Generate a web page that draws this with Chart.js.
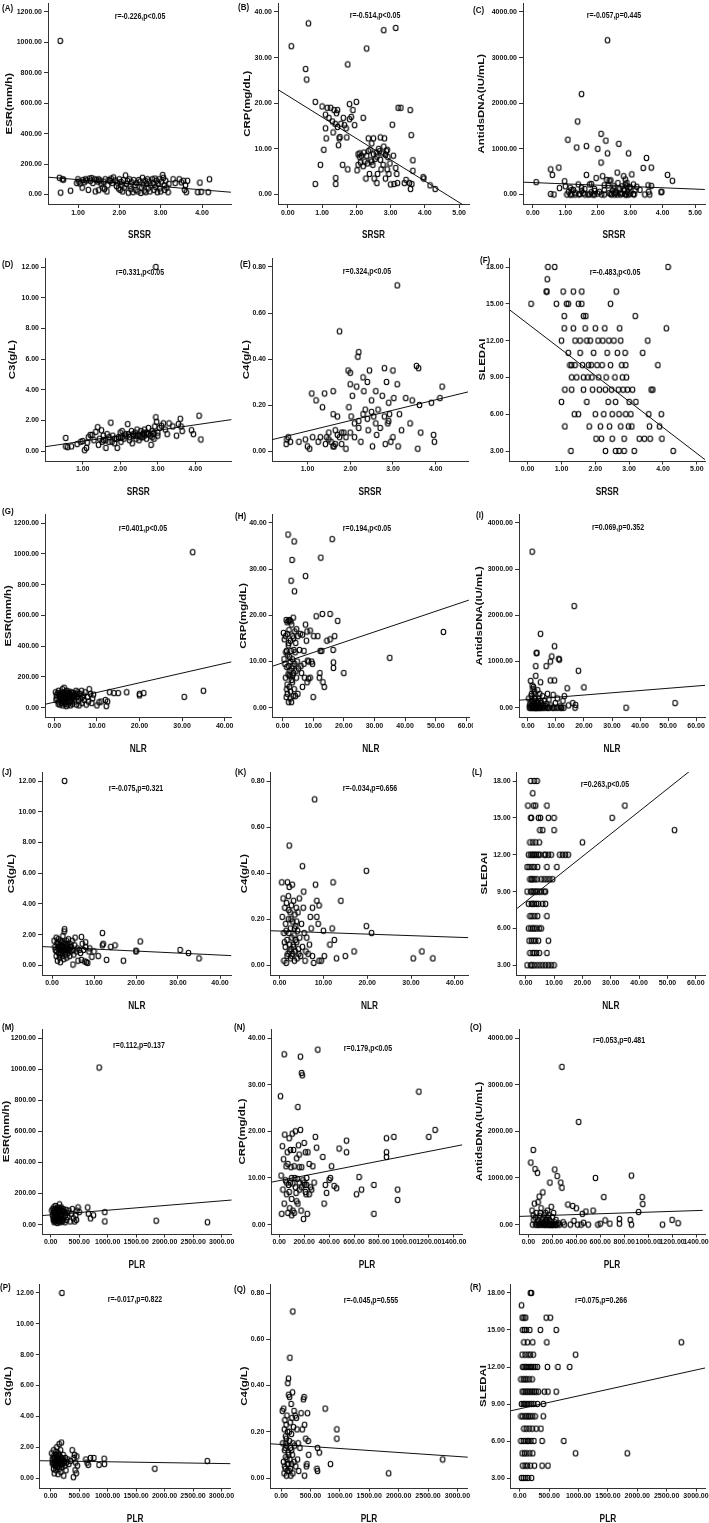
<!DOCTYPE html>
<html><head><meta charset="utf-8">
<script src="https://cdn.jsdelivr.net/npm/chart.js@4.4.1/dist/chart.umd.min.js"></script>
<style>
html,body{margin:0;padding:0;background:#fff;}
body{width:709px;height:1523px;position:relative;overflow:hidden;}
canvas{position:absolute;}
</style></head><body>
<script>
// ---------- tick label sets ----------
const srsrTicks14 = [1,2,3,4];
const srsrTicks05 = [0,1,2,3,4,5];
const nlrTicks40 = [0,10,20,30,40];
const nlrTicks60 = [0,10,20,30,40,50,60];
const plrTicks3000 = [0,500,1000,1500,2000,2500,3000];
const plrTicks1400 = [0,200,400,600,800,1000,1200,1400];
const esrTicks = [0,200,400,600,800,1000,1200];
const crpTicks = [0,10,20,30,40];
const adsTicks = [0,1000,2000,3000,4000];
const c3Ticks = [0,2,4,6,8,10,12];
const c4Ticks = [0,0.2,0.4,0.6,0.8];
const sledaiTicks = [3,6,9,12,15,18];

// ---------- point data (x, y) ----------
const ptsA = [[0.55,110],[0.57,1010],[0.58,12],[0.62,100],[0.65,98],[0.82,25],[0.97,75],[1.0,100],[1.02,85],[1.05,72],[1.1,45],[1.12,95],[1.15,80],[1.18,100],[1.2,92],[1.25,30],[1.28,105],[1.3,90],[1.33,108],[1.36,75],[1.4,100],[1.42,20],[1.45,95],[1.48,85],[1.5,100],[1.5,28],[1.53,92],[1.56,70],[1.6,45],[1.62,85],[1.64,35],[1.66,100],[1.7,20],[1.72,60],[1.75,95],[1.78,88],[1.8,105],[1.83,75],[1.86,112],[1.9,92],[1.93,55],[1.95,78],[1.98,40],[2.0,100],[2.02,30],[2.04,82],[2.06,60],[2.08,20],[2.1,95],[2.12,45],[2.15,125],[2.17,70],[2.2,90],[2.22,12],[2.24,100],[2.26,55],[2.28,35],[2.3,80],[2.33,15],[2.35,95],[2.38,60],[2.4,30],[2.42,75],[2.45,20],[2.47,95],[2.5,85],[2.52,10],[2.54,45],[2.56,110],[2.58,65],[2.6,25],[2.62,90],[2.64,15],[2.66,70],[2.68,100],[2.7,40],[2.72,85],[2.74,20],[2.76,60],[2.8,100],[2.82,75],[2.84,30],[2.86,105],[2.88,50],[2.9,90],[2.92,15],[2.94,70],[2.96,100],[2.98,40],[3.0,20],[3.02,85],[3.05,128],[3.07,110],[3.09,60],[3.1,30],[3.12,90],[3.15,45],[3.18,15],[3.2,70],[3.3,100],[3.35,75],[3.45,100],[3.5,80],[3.55,90],[3.58,30],[3.6,60],[3.62,15],[3.65,90],[3.9,15],[3.95,78],[3.98,18],[4.15,15],[4.18,100]];
const ptsB = [[0.1,32.5],[0.52,27.5],[0.55,25.2],[0.6,37.5],[1.75,28.5],[2.3,32],[2.8,36],[3.15,36.5],[0.8,20.3],[0.8,2.3],[0.95,6.5],[1.0,19.3],[1.05,9.8],[1.1,17.5],[1.1,14.5],[1.12,12.3],[1.15,19],[1.2,16.8],[1.25,19],[1.3,16],[1.32,13.6],[1.35,18.5],[1.38,15.5],[1.4,3.6],[1.4,2.3],[1.42,17.8],[1.45,18.5],[1.45,14.8],[1.48,10.8],[1.5,12.3],[1.52,12.6],[1.55,15.5],[1.6,6.5],[1.62,16.8],[1.65,15.2],[1.7,14.5],[1.72,12.5],[1.75,5.5],[1.8,16.5],[1.8,19.8],[1.85,17],[1.9,18.5],[1.95,15.2],[2.0,20.3],[2.02,5.3],[2.05,6.5],[2.05,8.8],[2.1,9],[2.12,7],[2.15,8.5],[2.2,16.8],[2.22,9.2],[2.25,7.2],[2.28,3.5],[2.3,8.5],[2.32,6.8],[2.35,12.3],[2.38,4.5],[2.4,9.8],[2.42,7.5],[2.45,11.2],[2.48,6.5],[2.5,12.3],[2.5,8.8],[2.52,3.5],[2.55,7.8],[2.58,9.2],[2.6,2.5],[2.62,4.5],[2.65,10],[2.68,9.5],[2.7,12.5],[2.72,5.5],[2.75,9],[2.78,6.5],[2.8,10.5],[2.82,12.3],[2.85,3.5],[2.88,9.5],[2.9,5.5],[2.92,8.2],[2.95,4.5],[2.98,6.8],[3.0,2.2],[3.05,15.3],[3.08,8.5],[3.1,2.3],[3.15,5.8],[3.18,4.5],[3.2,2.5],[3.22,19],[3.3,19],[3.4,2.5],[3.45,3.2],[3.55,2.5],[3.57,18.5],[3.58,1.2],[3.6,13],[3.62,2.3],[3.65,7.5],[3.65,5.2],[3.95,3.8],[3.97,3.5],[4.15,2],[4.3,1.2],[2.1,8.2],[2.2,6.2],[2.35,9.5],[2.6,8.3],[2.85,8.7],[2.9,9.8],[2.45,7.2],[2.7,7.6]];
const ptsC = [[0.1,270],[0.55,550],[0.6,430],[0.55,10],[0.65,0],[0.8,590],[0.82,140],[0.98,290],[1.0,180],[1.05,0],[1.08,1200],[1.1,60],[1.15,150],[1.2,0],[1.25,100],[1.3,40],[1.35,1030],[1.38,1600],[1.4,220],[1.42,0],[1.5,2200],[1.5,80],[1.55,30],[1.6,120],[1.65,1060],[1.65,430],[1.7,0],[1.75,220],[1.8,50],[1.85,0],[1.9,120],[1.95,360],[2.0,1000],[2.05,60],[2.1,700],[2.1,1330],[2.12,0],[2.15,400],[2.2,100],[2.25,1180],[2.28,320],[2.3,3380],[2.3,900],[2.32,200],[2.35,30],[2.4,310],[2.42,0],[2.45,90],[2.5,180],[2.52,0],[2.55,60],[2.6,480],[2.62,250],[2.65,1110],[2.68,120],[2.7,0],[2.75,20],[2.8,400],[2.82,90],[2.85,330],[2.88,0],[2.9,180],[2.92,50],[2.95,900],[2.97,150],[3.0,20],[3.05,440],[3.1,220],[3.12,0],[3.15,90],[3.2,170],[3.3,100],[3.4,580],[3.45,0],[3.5,800],[3.55,200],[3.57,60],[3.6,0],[3.65,590],[3.65,190],[3.95,50],[3.97,60],[4.15,430],[4.3,300],[1.15,0],[1.3,0],[1.45,10],[1.6,0],[1.75,5],[1.9,0],[2.0,20],[2.2,0],[2.4,10],[2.6,0],[2.7,40],[2.85,0],[2.95,0],[3.1,10],[1.2,100],[1.5,150],[1.9,80],[2.2,200],[2.5,130],[2.8,110],[2.9,250],[3.0,160],[2.75,180],[2.85,220],[1.8,230],[2.35,300],[2.55,30]];
const ptsD = [[0.55,0.85],[0.55,0.3],[0.6,0.25],[0.7,0.3],[0.85,0.45],[0.95,0.6],[1.0,0.65],[1.05,0.05],[1.1,0.2],[1.12,0.55],[1.15,0.9],[1.2,1.05],[1.25,1.05],[1.3,0.7],[1.35,1.25],[1.4,1.55],[1.42,0.4],[1.45,0.8],[1.5,1.35],[1.52,0.6],[1.55,1.0],[1.6,0.7],[1.62,0.2],[1.65,1.1],[1.7,0.9],[1.75,1.85],[1.78,0.6],[1.8,1.0],[1.85,0.5],[1.9,0.8],[1.92,0.2],[1.95,0.9],[2.0,1.2],[2.02,0.6],[2.05,1.3],[2.1,0.8],[2.15,1.0],[2.2,1.75],[2.22,1.1],[2.25,0.7],[2.3,1.3],[2.32,0.5],[2.35,1.0],[2.4,1.2],[2.42,0.8],[2.45,1.4],[2.5,0.7],[2.52,1.0],[2.55,1.3],[2.6,0.9],[2.62,1.2],[2.65,1.4],[2.7,0.8],[2.72,1.1],[2.75,1.5],[2.8,1.0],[2.82,0.4],[2.85,1.3],[2.88,1.1],[2.9,0.8],[2.92,1.6],[2.95,2.2],[2.95,12.0],[2.97,1.9],[3.0,1.2],[3.05,1.5],[3.1,1.65],[3.15,1.8],[3.2,1.4],[3.25,1.1],[3.3,1.8],[3.4,1.6],[3.5,1.0],[3.55,1.75],[3.6,2.1],[3.62,1.6],[3.65,1.3],[3.9,1.35],[3.95,1.1],[4.1,2.3],[4.15,0.75],[1.55,0.7],[1.7,0.6],[1.85,0.8],[2.05,0.9],[2.15,1.1],[2.25,0.9],[2.35,1.1],[2.45,1.0],[2.55,0.9],[2.65,1.0],[2.75,1.1],[2.85,0.9],[2.9,1.2],[3.0,1.0],[2.0,0.85],[2.4,1.0],[2.6,1.1],[2.7,1.2]];
const ptsE = [[0.5,0.03],[0.52,0.05],[0.55,0.06],[0.6,0.04],[0.8,0.04],[0.95,0.05],[1.0,0.02],[1.05,0.01],[1.1,0.25],[1.12,0.06],[1.2,0.22],[1.25,0.04],[1.3,0.06],[1.35,0.19],[1.4,0.25],[1.42,0.03],[1.45,0.06],[1.5,0.08],[1.55,0.04],[1.6,0.26],[1.6,0.16],[1.62,0.02],[1.65,0.09],[1.7,0.15],[1.75,0.52],[1.75,0.06],[1.8,0.03],[1.85,0.08],[1.9,0.01],[1.95,0.35],[1.97,0.19],[2.0,0.34],[2.0,0.29],[2.02,0.15],[2.05,0.24],[2.1,0.06],[2.15,0.28],[2.18,0.41],[2.2,0.43],[2.2,0.13],[2.25,0.04],[2.3,0.32],[2.32,0.26],[2.35,0.18],[2.4,0.3],[2.42,0.09],[2.45,0.35],[2.5,0.22],[2.52,0.02],[2.55,0.15],[2.6,0.26],[2.62,0.07],[2.65,0.18],[2.7,0.1],[2.75,0.24],[2.8,0.36],[2.82,0.03],[2.85,0.3],[2.88,0.12],[2.9,0.21],[2.92,0.16],[2.95,0.04],[3.0,0.35],[3.02,0.23],[3.1,0.72],[3.1,0.29],[3.12,0.02],[3.15,0.16],[3.2,0.09],[3.3,0.23],[3.4,0.12],[3.45,0.22],[3.55,0.37],[3.58,0.01],[3.6,0.36],[3.62,0.2],[3.65,0.08],[3.9,0.21],[3.95,0.07],[3.97,0.04],[4.15,0.28],[4.1,0.23],[1.5,0.05],[1.6,0.02],[1.65,0.03],[1.7,0.07],[1.8,0.08],[1.9,0.06],[2.0,0.08],[2.1,0.12],[2.2,0.1],[2.3,0.16],[2.4,0.14],[2.5,0.17],[2.6,0.12],[2.8,0.15],[2.9,0.13],[3.0,0.06]];
const ptsF = [[0.1,15],[0.55,16],[0.57,16],[0.58,17],[0.6,18],[0.8,18],[0.85,15],[1.0,12],[1.0,7],[1.05,16],[1.08,14],[1.08,13],[1.1,5],[1.1,8],[1.15,15],[1.2,15],[1.2,11],[1.25,10],[1.28,3],[1.3,10],[1.3,9],[1.3,8],[1.35,16],[1.35,13],[1.38,6],[1.4,12],[1.4,10],[1.45,9],[1.5,15],[1.5,6],[1.55,12],[1.55,11],[1.6,16],[1.6,15],[1.62,10],[1.65,14],[1.65,9],[1.65,8],[1.7,13],[1.72,14],[1.75,12],[1.75,7],[1.78,9],[1.8,10],[1.82,5],[1.85,12],[1.88,10],[1.9,9],[1.92,8],[1.95,11],[2.0,13],[2.0,6],[2.02,4],[2.05,10],[2.08,12],[2.1,9],[2.12,8],[2.15,5],[2.18,4],[2.2,10],[2.22,12],[2.25,6],[2.28,13],[2.3,3],[2.3,8],[2.32,9],[2.35,11],[2.38,7],[2.4,12],[2.42,5],[2.45,15],[2.45,10],[2.48,8],[2.5,6],[2.5,4],[2.55,12],[2.58,9],[2.6,7],[2.6,3],[2.62,16],[2.65,11],[2.68,8],[2.7,6],[2.7,3],[2.72,13],[2.75,12],[2.75,5],[2.78,10],[2.8,9],[2.82,8],[2.85,4],[2.85,3],[2.88,11],[2.9,10],[2.9,6],[2.92,9],[2.95,8],[2.98,5],[3.0,7],[3.05,6],[3.08,5],[3.1,8],[3.15,3],[3.18,14],[3.2,7],[3.3,4],[3.4,11],[3.45,4],[3.55,12],[3.58,6],[3.6,5],[3.62,4],[3.65,8],[3.7,8],[3.85,10],[3.9,5],[3.95,6],[3.97,4],[4.1,13],[4.15,18],[4.3,3]];
const ptsG = [[0.3,100],[0.5,80],[0.6,60],[0.8,95],[1.0,40],[1.0,110],[1.2,70],[1.3,20],[1.4,90],[1.5,55],[1.6,100],[1.7,30],[1.8,80],[1.9,120],[2.0,15],[2.0,65],[2.1,95],[2.2,45],[2.3,130],[2.4,75],[2.5,25],[2.5,100],[2.6,55],[2.7,85],[2.8,10],[2.9,110],[3.0,40],[3.0,70],[3.1,95],[3.2,20],[3.3,60],[3.4,105],[3.5,80],[3.6,35],[3.7,90],[3.8,15],[3.9,65],[4.0,100],[4.1,50],[4.2,80],[4.3,25],[4.5,95],[4.6,60],[4.8,40],[5.0,85],[5.1,110],[5.2,20],[5.4,70],[5.5,100],[5.7,45],[5.8,15],[6.0,90],[6.2,60],[6.4,110],[6.5,30],[6.8,80],[7.0,50],[7.2,100],[7.5,20],[7.8,70],[8.0,40],[8.2,120],[8.5,90],[8.8,30],[9.0,60],[9.2,85],[10.0,15],[10.5,35],[11.0,40],[12.0,50],[12.2,10],[12.5,40],[13.0,100],[14.0,95],[15.0,95],[17.0,100],[20.0,80],[20.0,90],[21.0,95],[30.5,70],[32.5,1010],[35.0,110],[1.1,85],[1.5,75],[2.2,85],[2.7,60],[3.3,80],[3.6,95],[4.4,70],[1.8,45],[2.4,35],[3.9,40],[4.7,75],[5.3,90],[6.6,70],[0.4,50],[0.9,25]];
const ptsH = [[0.3,16.2],[0.5,10.5],[0.6,14.8],[0.8,9.5],[1.0,15.5],[1.0,6.5],[1.2,2.3],[1.2,19],[1.3,12.3],[1.4,8.8],[1.5,5],[1.5,18.5],[1.6,3],[1.7,11.5],[1.8,7.2],[1.8,37.5],[1.9,13.5],[2.0,1.2],[2.0,9],[2.1,16.8],[2.2,4.5],[2.3,19],[2.4,8],[2.5,10],[2.5,2],[2.6,14.5],[2.7,6.8],[2.8,27.5],[2.8,12.3],[2.9,1.2],[3.0,8.5],[3.0,18],[3.1,32],[3.2,5.5],[3.3,15.5],[3.4,9],[3.5,2.5],[3.5,19.5],[3.6,7.5],[3.7,12.5],[3.8,36],[3.8,4],[3.9,25.2],[4.0,16.5],[4.0,9.5],[4.2,2.5],[4.3,14],[4.5,6.5],[4.6,17],[4.8,10],[5.0,3],[5.0,15.5],[5.2,8.5],[5.5,12.5],[5.8,16],[6.0,9],[6.2,7.5],[6.5,15.8],[6.5,4.5],[7.0,12.3],[7.0,9.5],[7.2,6.5],[7.5,28.5],[7.5,18],[7.8,14.5],[8.0,16.5],[8.0,5.5],[8.2,10.2],[8.5,10],[8.5,6.3],[9.0,16.7],[9.0,6.5],[9.5,10],[9.8,9.5],[10.0,2.3],[10.2,15.5],[11.0,19.8],[11.5,15.5],[12.0,6.5],[12.2,7.5],[12.3,12.3],[12.5,32.5],[12.8,12.3],[13.0,20.3],[13.2,5.5],[13.6,4.5],[14.5,14.5],[15.5,20.3],[15.5,14.8],[16.2,36.5],[16.5,12.5],[16.6,9.8],[16.6,8.6],[17,15.5],[18,18.8],[20,7.5],[35,10.8],[52.5,16.4],[1.1,12],[1.6,16],[2.2,7],[2.6,3.5],[3.2,10.5],[3.6,15],[4.4,8],[1.4,4],[2.3,11],[3.0,6],[2.0,14],[4.1,12],[1.9,18.8],[2.7,18.7],[3.3,7]];
const ptsI = [[0.3,200],[0.5,0],[0.8,100],[1.0,580],[1.0,0],[1.2,250],[1.3,50],[1.5,3380],[1.5,480],[1.6,0],[1.8,150],[2.0,450],[2.0,20],[2.2,300],[2.3,80],[2.5,0],[2.6,200],[2.8,900],[2.8,690],[2.9,0],[3.0,1180],[3.2,1190],[3.2,120],[3.4,30],[3.5,380],[3.6,0],[3.8,200],[4.0,60],[4.2,300],[4.4,0],[4.5,1600],[4.5,550],[4.8,100],[5.0,0],[5.2,250],[5.5,40],[5.8,150],[6.0,0],[6.5,900],[6.5,80],[7.0,300],[7.2,0],[7.5,180],[8.0,1000],[8.0,590],[8.2,50],[8.5,1110],[8.8,0],[9.0,280],[9.5,1330],[9.5,590],[9.8,100],[10,0],[10.5,200],[11,1060],[11.2,1040],[11.5,30],[12,0],[12.5,150],[13,250],[14,420],[14.5,50],[16,100],[16.5,2200],[16.8,0],[17,60],[18,800],[20,440],[35,0],[52.5,100],[0.6,50],[1.1,0],[1.4,150],[1.7,60],[1.9,0],[2.1,100],[2.4,200],[2.7,0],[3.1,50],[3.3,0],[3.7,100],[3.9,0],[4.3,0],[4.6,150],[5.4,0],[6.2,40],[6.8,0],[7.8,0],[9.2,0],[10.8,0],[11.8,0],[12.8,0],[2.2,0],[2.6,30],[3.0,0],[1.3,300],[1.8,400],[2.4,350]];
const ptsJ = [[0.5,1.6],[0.7,1.2],[0.8,1.0],[1.0,1.8],[1.0,0.6],[1.2,1.4],[1.3,0.3],[1.4,1.1],[1.5,1.7],[1.6,0.8],[1.7,1.3],[1.8,0.5],[1.9,1.0],[2.0,1.6],[2.0,0.2],[2.1,1.2],[2.2,0.8],[2.3,1.5],[2.4,1.0],[2.5,0.6],[2.6,1.9],[2.7,1.1],[2.8,0.4],[2.9,2.2],[3.0,12.0],[3.0,2.35],[3.0,0.9],[3.1,1.4],[3.2,0.7],[3.3,1.2],[3.4,1.6],[3.5,0.5],[3.6,1.0],[3.7,1.3],[3.8,0.8],[3.9,1.7],[4.0,1.1],[4.2,0.6],[4.3,1.4],[4.5,0.9],[4.6,1.2],[4.8,1.6],[5.0,0.05],[5.0,1.0],[5.2,0.7],[5.4,1.3],[5.5,1.8],[5.8,0.9],[6.0,1.1],[6.2,0.3],[6.5,1.0],[6.8,0.8],[7.0,1.85],[7.0,0.35],[7.2,1.4],[7.5,1.0],[7.8,0.25],[8.0,1.5],[8.0,1.2],[8.2,0.2],[8.5,0.15],[8.8,0.9],[9.0,1.1],[9.5,0.55],[10,0.9],[11,0.6],[12,2.1],[12,1.3],[12.2,1.4],[13,0.35],[14,1.2],[15,1.3],[17,0.3],[20,0.9],[20,0.95],[21,1.55],[30.5,1.0],[32.5,0.8],[35,0.45],[1.1,0.9],[1.6,1.2],[2.2,1.3],[2.6,0.9],[3.3,1.0],[3.6,1.4],[4.1,1.0],[4.4,1.2],[1.9,0.7],[2.5,1.2],[2.8,1.5],[3.5,1.1],[2.3,1.0],[1.4,1.5]];
const ptsK = [[0.5,0.36],[0.6,0.21],[0.8,0.29],[1.0,0.14],[1.0,0.02],[1.2,0.25],[1.3,0.08],[1.4,0.18],[1.5,0.01],[1.6,0.27],[1.7,0.11],[1.8,0.36],[1.9,0.05],[2.0,0.2],[2.0,0.3],[2.1,0.14],[2.2,0.52],[2.2,0.34],[2.3,0.09],[2.4,0.23],[2.5,0.03],[2.5,0.16],[2.6,0.07],[2.7,0.26],[2.8,0.12],[2.9,0.35],[3.0,0.05],[3.0,0.19],[3.1,0.09],[3.2,0.28],[3.3,0.13],[3.4,0.02],[3.5,0.22],[3.6,0.06],[3.7,0.17],[3.8,0.25],[3.9,0.1],[4.0,0.03],[4.1,0.15],[4.2,0.23],[4.3,0.07],[4.5,0.29],[4.6,0.12],[4.8,0.04],[5.0,0.18],[5.2,0.43],[5.2,0.08],[5.4,0.25],[5.5,0.32],[5.6,0.14],[5.8,0.02],[6.0,0.06],[6.2,0.12],[6.5,0.05],[6.8,0.09],[7.0,0.21],[7.2,0.16],[7.5,0.25],[7.5,0.04],[7.8,0.01],[8.0,0.72],[8.2,0.35],[8.5,0.28],[8.5,0.21],[8.8,0.18],[9.0,0.26],[9.0,0.02],[9.5,0.02],[10,0.15],[10.2,0.04],[11.5,0.09],[12,0.16],[12.2,0.36],[12.5,0.11],[13,0.03],[14,0.28],[15,0.04],[17,0.06],[19.8,0.41],[19.8,0.17],[21,0.14],[30.5,0.03],[32.5,0.06],[35,0.03],[1.1,0.1],[1.5,0.15],[2.3,0.06],[2.6,0.2],[3.2,0.08],[3.6,0.11],[4.4,0.05],[2.1,0.24],[2.8,0.04],[3.4,0.16],[1.7,0.04],[3.9,0.19]];
const ptsL = [[0.5,11],[0.5,9],[0.5,3],[0.8,16],[1.0,12],[1.0,8],[1.0,6],[1.2,11],[1.2,5],[1.5,13],[1.5,10],[1.5,7],[1.5,4],[1.8,18],[1.8,15],[1.8,12],[1.8,9],[1.8,6],[1.8,3],[2.0,15],[2.0,10],[2.0,8],[2.0,5],[2.2,12],[2.2,11],[2.2,9],[2.2,7],[2.2,3],[2.5,17],[2.5,13],[2.5,10],[2.5,8],[2.5,6],[2.5,4],[2.8,16],[2.8,12],[2.8,9],[2.8,5],[3.0,18],[3.0,11],[3.0,8],[3.0,6],[3.0,4],[3.0,3],[3.2,12],[3.2,10],[3.2,7],[3.5,13],[3.5,9],[3.5,5],[3.5,16],[3.8,12],[3.8,8],[3.8,6],[3.8,4],[4.0,18],[4.0,10],[4.0,9],[4.0,3],[4.2,11],[4.2,7],[4.5,15],[4.5,12],[4.5,8],[4.5,5],[4.8,13],[4.8,9],[4.8,6],[4.8,4],[5.0,14],[5.0,12],[5.0,3],[5.2,15],[5.5,10],[5.5,9],[5.5,6],[6.0,14],[6.0,8],[6.0,3],[6.5,12],[6.5,10],[6.5,9],[7.0,12],[7.0,9],[7.0,8],[7.0,3],[7.5,16],[7.5,11],[7.5,10],[7.5,7],[7.5,4],[8.0,15],[8.0,12],[8.0,5],[8.0,3],[8.5,10],[9.0,12],[9.0,3],[9.5,10],[10,15],[10,14],[10,3],[11,11],[12,12],[13,12],[14,12],[15,12],[20,13],[30.5,15],[35,16],[52.5,14]];
const ptsM = [[20,90],[30,60],[40,100],[45,30],[50,80],[55,110],[60,15],[65,70],[70,95],[75,45],[80,120],[85,20],[90,85],[95,60],[100,100],[105,35],[110,75],[115,10],[120,110],[125,50],[130,90],[135,25],[140,70],[145,100],[150,40],[155,130],[160,80],[165,15],[170,60],[175,95],[180,30],[185,110],[190,50],[195,85],[200,20],[210,70],[220,100],[230,40],[240,80],[250,15],[260,60],[270,95],[280,30],[290,75],[300,50],[320,90],[340,20],[360,70],[380,100],[400,40],[420,20],[440,60],[450,30],[460,90],[480,110],[500,80],[650,110],[660,70],[700,40],[750,60],[950,80],[950,20],[850,1010],[1850,25],[2750,15],[60,50],[80,75],[100,40],[120,65],[140,20],[160,105],[180,55],[200,90],[90,30],[110,95],[130,55],[150,85],[170,35],[190,70],[210,25],[230,85],[70,25],[50,40]];
const ptsN = [[10,27.5],[15,10.5],[20,2.3],[25,16.8],[30,7.5],[35,14],[40,36.5],[40,4.5],[45,19.3],[50,9.5],[55,12.5],[60,6.5],[65,15.5],[70,2.5],[75,8.5],[80,18.5],[85,3.5],[90,9],[95,12.3],[100,5.5],[105,19.5],[110,8.8],[115,16],[120,2.5],[125,10],[130,20],[135,6.8],[140,14.2],[145,9.8],[150,25.2],[150,4.5],[155,17],[160,12.3],[165,7.5],[170,36],[170,20.3],[175,3],[180,32.5],[185,32],[180,12.3],[190,9.5],[195,1.2],[200,17.5],[205,8.5],[210,15.5],[215,6.5],[220,10],[225,2.3],[230,15.5],[240,6.5],[250,8],[260,7.5],[270,12.5],[280,9],[290,18.8],[300,16.5],[310,37.5],[350,14.5],[360,4.5],[370,8.5],[380,6.8],[400,9.6],[410,10],[420,12.5],[440,8.3],[460,7.8],[480,16.3],[540,18],[540,15.5],[620,6.5],[640,10.2],[660,7.5],[760,8.5],[760,2.3],[860,18.5],[860,15.5],[860,14.5],[920,18.8],[950,7.5],[950,5.3],[1120,28.5],[1200,18.8],[1250,20.3],[60,9],[80,7],[100,10],[110,3],[130,8],[140,5],[160,9],[180,8],[200,9],[210,7],[220,8.5],[120,12.5],[90,16],[70,13],[100,2],[160,15],[240,13]];
const ptsO = [[20,1330],[30,300],[35,0],[40,1600],[45,100],[50,450],[55,1190],[60,0],[65,250],[70,50],[75,1110],[80,480],[85,0],[90,600],[95,180],[100,20],[105,350],[110,0],[115,120],[120,690],[125,30],[130,200],[135,0],[140,80],[145,250],[150,0],[155,150],[160,60],[165,0],[170,200],[175,100],[180,900],[185,0],[190,380],[195,50],[200,160],[205,0],[210,250],[220,1180],[225,0],[230,100],[240,1040],[250,30],[260,0],[270,900],[280,790],[280,3380],[290,50],[300,0],[330,430],[350,0],[370,400],[380,80],[400,350],[410,0],[420,2200],[440,0],[450,230],[460,40],[480,280],[500,0],[540,300],[560,1000],[580,0],[600,20],[630,590],[640,90],[680,20],[760,20],[760,120],[850,100],[860,1050],[860,0],[920,270],[950,590],[955,440],[1120,0],[1200,100],[1250,30],[40,200],[60,150],[80,100],[100,250],[120,0],[140,0],[160,300],[180,0],[200,0],[220,50],[240,0],[70,0],[90,0],[110,50],[130,30],[150,100],[170,0],[190,0],[210,0],[230,0]];
const ptsP = [[20,1.6],[30,1.2],[40,0.9],[45,1.4],[50,0.6],[55,1.8],[60,1.0],[65,0.3],[70,1.3],[75,0.8],[80,1.5],[85,1.1],[90,0.5],[95,1.7],[100,0.9],[105,1.2],[110,2.0],[115,0.7],[120,1.4],[125,1.0],[130,0.25],[135,1.6],[140,0.8],[145,1.2],[150,2.2],[155,0.6],[160,1.0],[165,1.4],[170,0.9],[175,1.8],[180,0.4],[185,1.1],[190,2.3],[195,0.7],[200,12.0],[200,1.3],[210,0.9],[220,1.5],[230,0.15],[240,1.1],[250,0.8],[260,1.3],[270,0.5],[280,1.0],[300,1.2],[320,0.9],[350,1.1],[380,1.8],[400,0.05],[410,1.3],[420,1.5],[430,0.5],[440,1.0],[450,0.3],[460,1.4],[470,0.8],[620,1.2],[640,1.0],[660,0.85],[700,1.3],[760,1.3],[850,0.85],[940,1.25],[945,0.9],[1830,0.6],[2750,1.1],[35,1.0],[60,1.3],[85,0.8],[110,1.1],[135,1.0],[160,1.2],[185,0.9],[210,1.2],[235,1.0],[100,1.5],[140,1.5],[70,1.0],[120,0.7]];
const ptsQ = [[20,0.29],[30,0.15],[40,0.07],[45,0.3],[50,0.02],[55,0.21],[60,0.12],[65,0.25],[70,0.04],[75,0.18],[80,0.09],[85,0.23],[90,0.01],[95,0.14],[100,0.27],[105,0.06],[110,0.2],[115,0.41],[120,0.11],[125,0.43],[130,0.36],[135,0.03],[140,0.16],[145,0.35],[150,0.52],[150,0.08],[155,0.24],[160,0.13],[165,0.01],[170,0.32],[175,0.19],[180,0.06],[185,0.26],[190,0.1],[195,0.37],[200,0.72],[200,0.02],[210,0.22],[220,0.29],[230,0.14],[240,0.27],[250,0.05],[260,0.26],[270,0.21],[280,0.08],[290,0.15],[300,0.03],[320,0.13],[340,0.28],[360,0.21],[380,0.34],[390,0.35],[400,0.23],[400,0.01],[420,0.17],[430,0.05],[440,0.06],[450,0.28],[460,0.16],[470,0.1],[610,0.04],[620,0.03],[620,0.13],[650,0.11],[750,0.3],[840,0.06],[950,0.21],[950,0.17],[1830,0.02],[2750,0.08],[60,0.05],[80,0.15],[100,0.08],[120,0.06],[140,0.2],[160,0.04],[180,0.12],[200,0.15],[220,0.07],[110,0.03],[130,0.1],[90,0.17],[70,0.13]];
const ptsR = [[20,11],[20,8],[20,6],[30,17],[30,9],[30,3],[40,16],[40,13],[40,10],[40,5],[50,15],[50,12],[50,8],[50,4],[60,11],[60,9],[60,6],[60,3],[70,16],[70,14],[70,12],[70,10],[70,7],[80,15],[80,9],[80,5],[90,13],[90,11],[90,8],[90,4],[100,16],[100,12],[100,10],[100,6],[100,3],[110,15],[110,9],[110,7],[120,12],[120,11],[120,8],[120,5],[130,14],[130,10],[130,6],[130,4],[140,13],[140,9],[140,3],[150,12],[150,8],[150,6],[160,11],[160,10],[160,7],[170,15],[170,9],[170,5],[180,18],[180,13],[180,12],[180,8],[180,4],[190,10],[190,6],[200,18],[200,12],[200,9],[200,3],[210,11],[210,7],[220,14],[220,10],[220,8],[220,5],[230,13],[230,12],[240,9],[240,6],[250,10],[250,4],[260,12],[260,8],[280,10],[280,7],[300,9],[300,12],[320,10],[350,15],[360,7],[380,6],[380,4],[400,8],[400,9],[420,10],[450,16],[460,14],[470,12],[480,10],[480,4],[520,16],[620,15],[620,10],[650,12],[750,6],[850,12],[950,13],[950,5],[1830,5],[2750,14]];

// ---------- regression line end points ----------
const fitA = [[0.27,114],[4.7,15]];
const fitB = [[-0.29,23],[5.29,-3.1]];
const fitC = [[-0.3,270],[5.3,110]];
const fitD = [[0.0,0.28],[4.97,2.05]];
const fitE = [[0.12,0.047],[4.76,0.257]];
const fitF = [[-0.53,14.5],[5.24,2.3]];
const fitG = [[-2.2,22],[41.6,298]];
const fitH = [[-3.2,9.0],[60.8,23.3]];
const fitI = [[-3.5,160],[63.3,485]];
const fitJ = [[-2.4,1.22],[42.7,0.63]];
const fitK = [[-2.05,0.15],[43.1,0.12]];
const fitL = [[-3.2,7.6],[63.3,19.8]];
const fitM = [[-153,58],[3176,158]];
const fitN = [[-62,9.1],[1469,17.1]];
const fitO = [[-81,175],[1455,305]];
const fitP = [[-189,1.12],[3158,0.93]];
const fitQ = [[-184,0.148],[3178,0.09]];
const fitR = [[-153,8.45],[3153,11.92]];

// ---------- annotation texts ----------
const letters = ['A','B','C','D','E','F','G','H','I','J','K','L','M','N','O','P','Q','R'];
const rTexts = ['r=-0.226,p<0.05','r=-0.514,p<0.05','r=-0.057,p=0.445','r=0.331,p<0.05','r=0.324,p<0.05','r=-0.483,p<0.05','r=0.401,p<0.05','r=0.194,p<0.05','r=0.069,p=0.352','r=-0.075,p=0.321','r=-0.034,p=0.656','r=0.263,p<0.05','r=0.112,p=0.137','r=0.179,p<0.05','r=0.053,p=0.481','r=-0.017,p=0.822','r=-0.045,p=0.555','r=0.075,p=0.266'];
const xNames = ['SRSR','SRSR','SRSR','SRSR','SRSR','SRSR','NLR','NLR','NLR','NLR','NLR','NLR','PLR','PLR','PLR','PLR','PLR','PLR'];
const yNames = ['ESR(mm/h)','CRP(mg/dL)','AntidsDNA(IU/mL)','C3(g/L)','C4(g/L)','SLEDAI','ESR(mm/h)','CRP(mg/dL)','AntidsDNA(IU/mL)','C3(g/L)','C4(g/L)','SLEDAI','ESR(mm/h)','CRP(mg/dL)','AntidsDNA(IU/mL)','C3(g/L)','C4(g/L)','SLEDAI'];

// ---------- layout (pixels) ----------
const FONTF = "'Liberation Sans',Arial,sans-serif";
const rowsGeom = [[11.5,194,204],[266.7,450.7,460.7],[523.3,708,718],[780.7,965,975],[1037.7,1224.3,1233.7],[1293.3,1478.3,1488.3]];
const colLeft = [0,233,469];
const CW = 240;

const panels = [
 {pts:ptsA,fit:fitA,xt:srsrTicks14,yt:esrTicks,g:[48,231,78,202],lp:[2,8],rp:[140,16],tx:9},
 {pts:ptsB,fit:fitB,xt:srsrTicks05,yt:crpTicks,g:[278,472,288,462],lp:[238,7],rp:[375,15],tx:247},
 {pts:ptsC,fit:fitC,xt:srsrTicks05,yt:adsTicks,g:[523,707,533,697],lp:[473,10],rp:[614,15],tx:481},
 {pts:ptsD,fit:fitD,xt:srsrTicks14,yt:c3Ticks,g:[45,231.5,82.7,195.3],lp:[2,264],rp:[140,272],tx:12},
 {pts:ptsE,fit:fitE,xt:srsrTicks14,yt:c4Ticks,g:[272,468,307.5,435.7],lp:[240,264],rp:[367,271],tx:246},
 {pts:ptsF,fit:fitF,xt:srsrTicks05,yt:sledaiTicks,g:[509.6,705.4,527.7,697.2],lp:[480,260],rp:[615,272],tx:482},
 {pts:ptsG,fit:fitG,xt:nlrTicks40,yt:esrTicks,g:[45,231.6,54.3,224.7],lp:[2,512],rp:[143,529],tx:8},
 {pts:ptsH,fit:fitH,xt:nlrTicks60,yt:crpTicks,g:[272.7,470.6,282.6,468],lp:[235,517],rp:[367,529],tx:243},
 {pts:ptsI,fit:fitI,xt:nlrTicks60,yt:adsTicks,g:[519,706.3,528,697.3],lp:[476,516],rp:[618,528],tx:479},
 {pts:ptsJ,fit:fitJ,xt:nlrTicks40,yt:c3Ticks,g:[42,231.7,52,220],lp:[2,772],rp:[136,788],tx:11},
 {pts:ptsK,fit:fitK,xt:nlrTicks40,yt:c4Ticks,g:[270.6,468.3,279.6,454.8],lp:[235,772],rp:[370,788],tx:244},
 {pts:ptsL,fit:fitL,xt:nlrTicks60,yt:sledaiTicks,g:[516.7,707,525.8,697.7],lp:[472,772],rp:[605,784],tx:484},
 {pts:ptsM,fit:fitM,xt:plrTicks3000,yt:esrTicks,g:[42,231.7,50.7,221.7],lp:[2,1027],rp:[139,1045],tx:6},
 {pts:ptsN,fit:fitN,xt:plrTicks1400,yt:crpTicks,g:[271.5,462.4,279.2,453.8],lp:[234,1027],rp:[368,1048],tx:242},
 {pts:ptsO,fit:fitO,xt:plrTicks1400,yt:adsTicks,g:[519,706,528.5,697],lp:[470,1027],rp:[619,1040],tx:479},
 {pts:ptsP,fit:fitP,xt:plrTicks3000,yt:c3Ticks,g:[39.8,230.5,50.6,221.5],lp:[0,1288],rp:[135,1300],tx:8},
 {pts:ptsQ,fit:fitQ,xt:plrTicks3000,yt:c4Ticks,g:[270.3,467.8,281.1,457.4],lp:[234,1290],rp:[371,1301],tx:244},
 {pts:ptsR,fit:fitR,xt:plrTicks3000,yt:sledaiTicks,g:[510.8,705,519.8,696],lp:[470,1288],rp:[601,1301],tx:483}
];

// hollow ellipse marker
function makeMarker(){
  const c=document.createElement('canvas'); c.width=7; c.height=8;
  const x=c.getContext('2d'); x.strokeStyle='#000'; x.lineWidth=1.1;
  x.beginPath(); x.ellipse(3.5,4,2.3,2.7,0,0,Math.PI*2); x.stroke();
  return c;
}
const marker = makeMarker();

const textPlugin = {
  id:'panelText',
  afterDraw(chart, args, o){
    const ctx=chart.ctx, ca=chart.chartArea;
    ctx.save();
    ctx.fillStyle='#111';
    // panel letter
    ctx.save();
    ctx.translate(o.lp[0]-o.cl, o.lp[1]-o.ct);
    ctx.scale(1,1.15);
    ctx.font='bold 8px '+FONTF; ctx.textAlign='left'; ctx.textBaseline='middle';
    ctx.fillText('('+o.letter+')', 0, 0);
    ctx.restore();
    // r annotation
    ctx.save();
    ctx.translate(o.rp[0]-o.cl, o.rp[1]-o.ct);
    ctx.scale(1,1.2);
    ctx.font='bold 7px '+FONTF; ctx.textAlign='center'; ctx.textBaseline='middle';
    ctx.fillText(o.r, 0, 0);
    ctx.restore();
    // x title (slightly stretched vertically)
    ctx.save();
    ctx.translate((ca.left+ca.right)/2, o.xty-o.ct);
    ctx.scale(1,1.3);
    ctx.font='bold 8.3px '+FONTF; ctx.textAlign='center'; ctx.textBaseline='middle';
    ctx.fillText(o.xName,0,0);
    ctx.restore();
    // y title (stretched along its length)
    ctx.translate(o.tx-o.cl, (ca.top+ca.bottom)/2);
    ctx.rotate(-Math.PI/2);
    ctx.scale(1.2,1);
    ctx.font='bold 9.5px '+FONTF; ctx.textAlign='center'; ctx.textBaseline='middle';
    ctx.fillText(o.yName,0,0);
    ctx.restore();
  }
};

panels.forEach((p,i)=>{
  const row=Math.floor(i/3), col=i%3;
  const [tt,bt,al]=rowsGeom[row];
  const areaTop=tt-9;
  const cl=colLeft[col];
  const ct=areaTop-6;
  const ch=Math.round(al+44-ct);
  const xH = ct+ch-al;
  const canvas=document.createElement('canvas');
  canvas.width=CW; canvas.height=ch;
  canvas.style.left=cl+'px'; canvas.style.top=ct+'px';
  canvas.style.width=CW+'px'; canvas.style.height=ch+'px';
  document.body.appendChild(canvas);

  const yt=p.yt, xt=p.xt;
  const yppu=(bt-tt)/(yt[yt.length-1]-yt[0]);
  const yMin=yt[0]-(al-bt)/yppu, yMax=yt[yt.length-1]+(tt-areaTop)/yppu;
  const [ax,rx,fpx,lpx]=p.g;
  const xppu=(lpx-fpx)/(xt[xt.length-1]-xt[0]);
  const xMin=xt[0]-(fpx-ax)/xppu, xMax=xt[xt.length-1]+(rx-lpx)/xppu;

  const tickFont={family:FONTF,size:7,weight:'bold'};
  new Chart(canvas,{
    type:'scatter',
    data:{datasets:[
      {data:p.pts.map(v=>({x:v[0],y:v[1]})),pointStyle:marker,pointRadius:3,pointHoverRadius:3,showLine:false,borderColor:'#000',backgroundColor:'rgba(0,0,0,0)'},
      {data:p.fit.map(v=>({x:v[0],y:v[1]})),showLine:true,pointRadius:0,borderColor:'#111',borderWidth:1,fill:false}
    ]},
    options:{
      responsive:false, animation:false, devicePixelRatio:1,
      layout:{padding:{left:0,top:areaTop-ct,right:CW-(rx-cl),bottom:0}},
      plugins:{legend:{display:false},tooltip:{enabled:false},title:{display:false},
        panelText:{letter:letters[i],r:rTexts[i],xName:xNames[i],yName:yNames[i],lp:p.lp,rp:p.rp,tx:p.tx,xty:al+31,cl:cl,ct:ct}},
      events:[],
      scales:{
        x:{type:'linear',min:xMin,max:xMax,bounds:'data',
          afterBuildTicks:s=>{s.ticks=xt.map(v=>({value:v}));},
          afterFit:s=>{s.height=xH;s.paddingLeft=0;s.paddingRight=0;},
          ticks:{callback:v=>Number(v).toFixed(2),font:tickFont,color:'#111',maxRotation:0,minRotation:0,autoSkip:false,padding:0.5},
          grid:{display:true,drawOnChartArea:false,drawTicks:true,tickLength:3.5,color:'#333',lineWidth:1},
          border:{display:true,color:'#333',width:1},
          title:{display:false}
        },
        y:{type:'linear',min:yMin,max:yMax,bounds:'data',
          afterBuildTicks:s=>{s.ticks=yt.map(v=>({value:v}));},
          afterFit:s=>{s.width=ax-cl;s.paddingTop=0;s.paddingBottom=0;},
          ticks:{callback:v=>Number(v).toFixed(2),font:tickFont,color:'#111',autoSkip:false,padding:2},
          grid:{display:true,drawOnChartArea:false,drawTicks:true,tickLength:4,color:'#333',lineWidth:1},
          border:{display:true,color:'#333',width:1},
          title:{display:false}
        }
      }
    },
    plugins:[textPlugin]
  });
});
</script>
</body></html>
